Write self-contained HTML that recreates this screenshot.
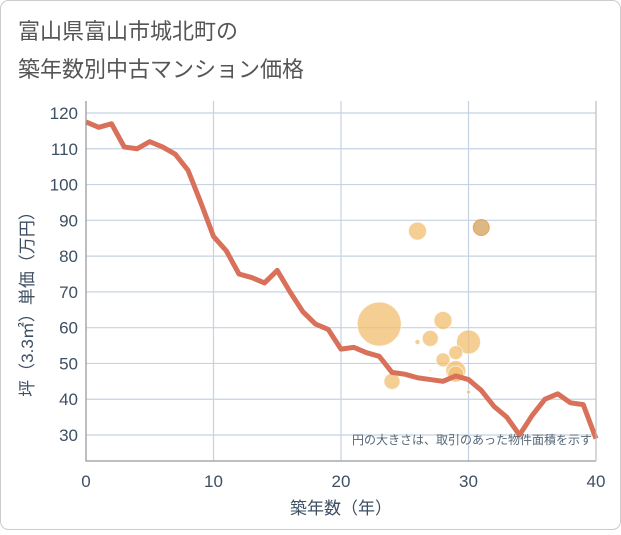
<!DOCTYPE html>
<html><head><meta charset="utf-8"><style>
body{margin:0;background:#fff;}
svg text{font-family:"Liberation Sans","Noto Sans CJK JP",sans-serif;}
</style></head><body>
<svg width="621" height="530">
<rect x="0.5" y="0.5" width="620" height="529" rx="8" fill="#fff" stroke="#ccc"/>
<text x="18" y="39" font-size="22" fill="#555">富山県富山市城北町の</text>
<text x="18" y="77" font-size="22" fill="#555">築年数別中古マンション価格</text>
<g id="grid"></g>
<g id="bubbles"></g>
<g id="line"></g>
<g id="axes"></g>
<text x="592" y="444" font-size="12" fill="#556677" text-anchor="end">円の大きさは、取引のあった物件面積を示す</text>
<text x="341" y="514" font-size="17" fill="#3d4f63" text-anchor="middle">築年数（年）</text>
<text transform="translate(33,300) rotate(-90)" font-size="17" fill="#3d4f63" text-anchor="middle">坪（3.3㎡）単価（万円）</text>
</svg>
<script>
const xTicks=[0,10,20,30,40];
const yTicks=[30,40,50,60,70,80,90,100,110,120];
const lineYears=[0,1,2,3,4,5,6,7,8,9,10,11,12,13,14,15,16,17,18,19,20,21,22,23,24,25,26,27,28,29,30,31,32,33,34,35,36,37,38,39,40];
const linePrices=[117.5,116,117,110.5,110,112,110.5,108.5,104,95,85.5,81.5,75,74,72.5,76,70,64.5,61,59.5,54,54.5,53,52,47.5,47,46,45.5,45,46.5,45.5,42.5,38,35,30,35.5,40,41.5,39,38.5,29];
const bubbleYears=[26,31,23,28,27,26,30,29,28,29,29,27,24,30];
const bubblePrices=[87,88,61,62,57,56,56,53,51,48,47,48,45,42];
const bubbleSizes=[9,8,22,9,8,2.5,12,7,7,10,8,1,8,2];
const NS='http://www.w3.org/2000/svg';
const X0=86,X1=596,Y0=435,Y1=113;
const sx=v=>X0+(v-0)/40*(X1-X0);
const sy=v=>Y0-(v-30)/90*(Y0-Y1);
function mk(t,a,p){const e=document.createElementNS(NS,t);for(const k in a)e.setAttribute(k,a[k]);p.appendChild(e);return e;}
const grid=document.getElementById('grid'),axes=document.getElementById('axes');
const bg=mk('rect',{x:X0,y:101,width:X1-X0,height:360,fill:'#fff'},grid);


yTicks.forEach(v=>{
 const l=mk('line',{x1:X0,x2:X1,y1:sy(v),y2:sy(v),stroke:'#c5d3e2','stroke-width':1.2},grid);
 
 
 const t=mk('text',{x:X0-8,y:sy(v)+6,'font-size':17,fill:'#3d4f63','text-anchor':'end'},axes);
 t.textContent=v;
 
 
});
xTicks.forEach(v=>{
 const l=mk('line',{x1:sx(v),x2:sx(v),y1:101,y2:461,stroke:'#c5d3e2','stroke-width':1.2},grid);
 
 
 const t=mk('text',{x:sx(v),y:487,'font-size':17,fill:'#3d4f63','text-anchor':'middle'},axes);
 t.textContent=v;
 
 
});
const ax=mk('path',{d:`M${X0},101V461H${X1}`,stroke:'#999',fill:'none','stroke-width':1.2},axes);


const rb=mk('line',{x1:X1,x2:X1,y1:101,y2:461,stroke:'#bbb'},axes);


const bb=document.getElementById('bubbles');
bubbleYears.forEach((yr,i)=>{
 const dark=(yr===31);
 const c=mk('circle',{cx:sx(yr),cy:sy(bubblePrices[i]),r:bubbleSizes[i],fill:dark?'rgba(215,170,110,0.85)':'rgba(240,190,110,0.75)',stroke:dark?'rgba(235,160,80,0.9)':'rgba(255,255,255,0.6)','stroke-width':1},bb);
 
 
});
const pts=lineYears.map((yr,i)=>sx(yr)+','+sy(linePrices[i])).join(' ');
const pl=mk('polyline',{points:pts,fill:'none',stroke:'#d9705a','stroke-width':5,'stroke-linejoin':'round'},document.getElementById('line'));


</script>
</body></html>
